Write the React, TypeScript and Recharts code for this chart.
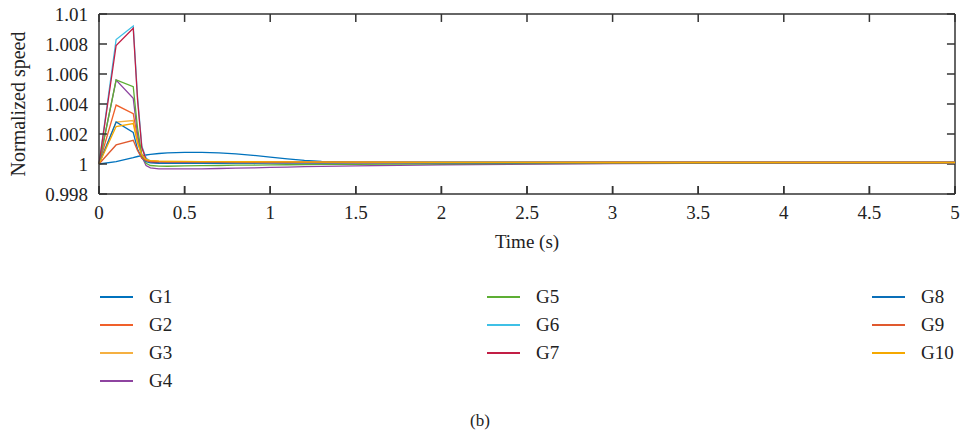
import { LineChart, Line, XAxis, YAxis, ReferenceLine } from 'recharts';

// time samples (s)
const time = [0, 0.1, 0.2, 0.225, 0.25, 0.275, 0.3, 0.35, 0.4, 0.5, 0.6, 0.7, 0.8, 0.9, 1.0, 1.1, 1.2, 1.3, 1.5, 2, 3, 4, 5];

const g1 = [1.0, 1.00016, 1.00042, 1.0005, 1.00056, 1.0006, 1.00064, 1.0007, 1.00074, 1.00078, 1.00077, 1.00074, 1.00068, 1.00058, 1.00046, 1.00034, 1.00024, 1.00017, 1.00012, 1.0001, 1.0001, 1.0001, 1.0001];
const g2 = [1.0, 1.00393, 1.00335, 1.0017, 1.0006, 1.00028, 1.0002, 1.00017, 1.00016, 1.00015, 1.00014, 1.00014, 1.00013, 1.00013, 1.00012, 1.00012, 1.00012, 1.00011, 1.00011, 1.0001, 1.0001, 1.0001, 1.0001];
const g3 = [1.0, 1.0028, 1.0029, 1.0015, 1.0006, 1.0003, 1.00021, 1.00018, 1.00017, 1.00016, 1.00015, 1.00015, 1.00014, 1.00014, 1.00013, 1.00013, 1.00012, 1.00012, 1.00011, 1.0001, 1.0001, 1.0001, 1.0001];
const g4 = [1.0, 1.0056, 1.00438, 1.002, 1.0005, 0.9999, 0.99974, 0.99968, 0.99967, 0.99967, 0.99968, 0.9997, 0.99972, 0.99974, 0.99977, 0.99979, 0.99982, 0.99984, 0.99988, 0.99995, 1.00002, 1.00006, 1.00008];
const g5 = [1.0, 1.0056, 1.00515, 1.0024, 1.0006, 1.00005, 0.9999, 0.99986, 0.99985, 0.99987, 0.99989, 0.9999, 0.99992, 0.99993, 0.99994, 0.99995, 0.99996, 0.99997, 0.99998, 1.00001, 1.00005, 1.00007, 1.00008];
const g6 = [1.0, 1.0083, 1.0092, 1.0045, 1.0012, 1.0004, 1.00018, 1.00012, 1.0001, 1.0001, 1.0001, 1.0001, 1.0001, 1.0001, 1.0001, 1.0001, 1.0001, 1.0001, 1.0001, 1.0001, 1.0001, 1.0001, 1.0001];
const g7 = [1.0, 1.0079, 1.00905, 1.0043, 1.0011, 1.0003, 1.00012, 1.00008, 1.00006, 1.00006, 1.00006, 1.00007, 1.00007, 1.00007, 1.00007, 1.00008, 1.00008, 1.00008, 1.00008, 1.00009, 1.0001, 1.0001, 1.0001];
const g8 = [1.0, 1.0028, 1.0021, 1.001, 1.0004, 1.00015, 1.00008, 1.00005, 1.00004, 1.00004, 1.00005, 1.00005, 1.00006, 1.00006, 1.00007, 1.00007, 1.00008, 1.00008, 1.00009, 1.0001, 1.0001, 1.0001, 1.0001];
const g9 = [1.0, 1.00127, 1.00158, 1.0009, 1.0004, 1.00022, 1.00018, 1.00016, 1.00015, 1.00015, 1.00014, 1.00014, 1.00014, 1.00013, 1.00013, 1.00013, 1.00012, 1.00012, 1.00012, 1.00011, 1.0001, 1.0001, 1.0001];
const g10 = [1.0, 1.0025, 1.0027, 1.0014, 1.0006, 1.0003, 1.00022, 1.00019, 1.00018, 1.00017, 1.00016, 1.00016, 1.00015, 1.00015, 1.00014, 1.00014, 1.00013, 1.00013, 1.00012, 1.00011, 1.0001, 1.0001, 1.0001];

const seriesNames = ['G1', 'G2', 'G3', 'G4', 'G5', 'G6', 'G7', 'G8', 'G9', 'G10'];
const seriesValues = [g1, g2, g3, g4, g5, g6, g7, g8, g9, g10];
const seriesColors = ['#0072BD', '#F0602A', '#F5B041', '#8E44A0', '#5DAE34', '#3FC0E6', '#C21E45', '#0A6FB8', '#E0592E', '#F5A800'];

const xTicks = [0, 0.5, 1, 1.5, 2, 2.5, 3, 3.5, 4, 4.5, 5];
const yTicks = [0.998, 1, 1.002, 1.004, 1.006, 1.008, 1.01];

const X_MIN = 0;
const X_MAX = 5;
const Y_MIN = 0.998;
const Y_MAX = 1.01;
// inward tick length, in axis units (about 8px each way)
const X_TICK_LEN = 0.047;
const Y_TICK_LEN = 0.00053;

const data = time.map((t, i) => {
  const row: Record<string, number> = { t };
  seriesNames.forEach((name, k) => {
    row[name] = seriesValues[k][i];
  });
  return row;
});

// legend layout: three columns
const legendCols = [
  ['G1', 'G2', 'G3', 'G4'],
  ['G5', 'G6', 'G7'],
  ['G8', 'G9', 'G10'],
];
const legendColX = [100, 487, 872];

const font = '"Liberation Serif", "DejaVu Serif", serif';
const axisColor = '#333';
const tickStyle = { fontFamily: font, fontSize: 19, fill: '#222' };

const fmt = (v: number) => String(Number(v.toFixed(3)));

export default function App() {
  return (
    <div style={{ position: 'absolute', left: 0, top: 0, width: 960, height: 439, background: '#fff', fontFamily: font }}>
      <LineChart width={960} height={439} data={data} margin={{ top: 14, right: 5, bottom: 205, left: 0 }}>
        <XAxis
          dataKey="t"
          type="number"
          domain={[X_MIN, X_MAX]}
          ticks={xTicks}
          tickFormatter={fmt}
          height={40}
          tickSize={-8}
          tickMargin={20}
          interval={0}
          stroke={axisColor}
          strokeWidth={1.5}
          tick={tickStyle}
        />
        <YAxis
          type="number"
          domain={[Y_MIN, Y_MAX]}
          ticks={yTicks}
          tickFormatter={fmt}
          width={99}
          tickSize={-8}
          tickMargin={19}
          interval={0}
          stroke={axisColor}
          strokeWidth={1.5}
          tick={tickStyle}
        />
        {/* box frame */}
        <ReferenceLine y={Y_MAX} stroke={axisColor} strokeWidth={1.5} />
        <ReferenceLine x={X_MAX} stroke={axisColor} strokeWidth={1.5} />
        {/* inward ticks on bottom, top and right sides */}
        {xTicks.map((t) => (
          <ReferenceLine key={`b${t}`} segment={[{ x: t, y: Y_MIN }, { x: t, y: Y_MIN + Y_TICK_LEN }]} stroke={axisColor} strokeWidth={1.5} />
        ))}
        {xTicks.map((t) => (
          <ReferenceLine key={`t${t}`} segment={[{ x: t, y: Y_MAX }, { x: t, y: Y_MAX - Y_TICK_LEN }]} stroke={axisColor} strokeWidth={1.5} />
        ))}
        {yTicks.map((v) => (
          <ReferenceLine key={`r${v}`} segment={[{ x: X_MAX, y: v }, { x: X_MAX - X_TICK_LEN, y: v }]} stroke={axisColor} strokeWidth={1.5} />
        ))}
        {seriesNames.map((name, k) => (
          <Line
            key={name}
            dataKey={name}
            type="linear"
            stroke={seriesColors[k]}
            strokeWidth={1.3}
            dot={false}
            isAnimationActive={false}
          />
        ))}
      </LineChart>

      <div style={{ position: 'absolute', left: 0, top: 104, width: 36, height: 0 }}>
        <div
          style={{
            position: 'absolute',
            left: 18,
            top: 0,
            transform: 'translate(-50%, -50%) rotate(-90deg)',
            whiteSpace: 'nowrap',
            fontSize: 20,
            color: '#222',
          }}
        >
          Normalized speed
        </div>
      </div>

      <div style={{ position: 'absolute', left: 527, top: 242, transform: 'translate(-50%, -50%)', fontSize: 19, color: '#222', whiteSpace: 'nowrap' }}>
        Time (s)
      </div>

      {legendCols.map((col, c) =>
        col.map((name, r) => {
          const k = seriesNames.indexOf(name);
          return (
            <div
              key={name}
              style={{ position: 'absolute', left: legendColX[c], top: 297 + r * 28, transform: 'translateY(-50%)', display: 'flex', alignItems: 'center' }}
            >
              <div style={{ width: 33, height: 2, background: seriesColors[k] }} />
              <span style={{ marginLeft: 16, fontSize: 19, color: '#222' }}>{name}</span>
            </div>
          );
        })
      )}

      <div style={{ position: 'absolute', left: 480, top: 421, transform: 'translate(-50%, -50%)', fontSize: 17, color: '#222' }}>(b)</div>
    </div>
  );
}
